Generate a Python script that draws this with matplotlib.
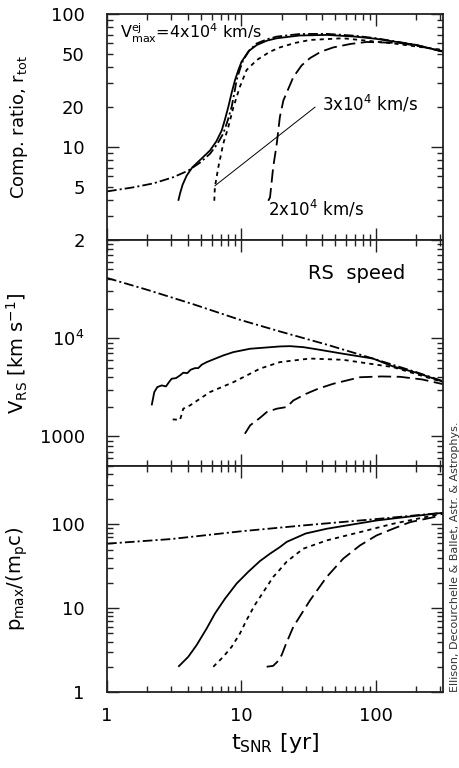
import matplotlib
matplotlib.use("Agg")
import matplotlib.pyplot as plt
import numpy as np
from matplotlib.ticker import FixedLocator, LogLocator, NullFormatter, FuncFormatter

plt.rcParams['font.family'] = ['DejaVu Sans']
plt.rcParams['mathtext.fontset'] = 'custom'
plt.rcParams['mathtext.rm'] = 'DejaVu Sans'
plt.rcParams['mathtext.it'] = 'DejaVu Sans'
plt.rcParams['lines.scale_dashes'] = False

# ---- top panel: compression ratio r_tot ----
r_dd_t = [1, 1.57, 2.21, 3.11, 4.02, 4.9, 5.83, 6.6, 7.32, 7.9, 8.45, 8.85, 9.2, 9.75, 10.3, 11.5, 13,
          15.5, 18.3, 27, 43, 70, 100, 200, 315]
r_dd = [4.63, 4.97, 5.32, 5.92, 6.64, 7.6, 8.87, 10.5, 12.6, 15.8, 20, 25.5, 31.8, 38.5, 45, 53.5, 60,
        64.5, 67.5, 70.6, 70.8, 68.5, 65.6, 58.4, 52]
r_4_t = [3.39, 3.5, 3.65, 3.91, 4.3, 5.0, 5.83, 6.5, 7.13, 7.55, 7.98, 8.45, 8.95, 9.45, 10, 11.3, 13,
         15.5, 18.3, 27, 43, 70, 100, 200, 315]
r_4 = [3.94, 4.5, 5.2, 6.08, 7.0, 8.1, 9.4, 11.0, 13.3, 16.2, 20, 25.5, 31.8, 37.5, 43.6, 52.5, 58.4,
       63, 65.6, 68.8, 69.5, 67.5, 65, 58.4, 52]
r_3_t = [6.28, 6.34, 6.72, 7.32, 7.98, 8.72, 9.73, 10.9, 13, 16.3, 19.3, 25, 32.3, 57, 134, 315]
r_3 = [3.94, 4.97, 7.0, 10.6, 14.1, 20, 28.3, 37.8, 45, 52, 56, 60.5, 63.7, 65.6, 60, 53.6]
r_2_t = [15.8, 16.3, 17.2, 18.3, 19.3, 20.5, 24.3, 28, 32.3, 39, 48.2, 65, 85.3, 150, 212, 315]
r_2 = [3.94, 4.17, 7.0, 10.6, 16.8, 22.4, 33.5, 41, 46.5, 52, 56, 59.5, 61.5, 60.5, 57, 52.5]
pointer_t = [6.35, 35.2]
pointer_r = [5.11, 19.9]

# ---- middle panel: reverse shock speed ----
v_dd_t = [1, 2, 4.4, 9.7, 19.3, 43, 95, 200, 315]
v_dd = [41000, 31000, 22100, 15400, 11700, 8600, 6200, 4500, 3650]
v_4_t = [2.149, 2.247, 2.366, 2.551, 2.746, 2.891, 3.027, 3.26, 3.49, 3.69, 3.955, 4.19, 4.51, 4.77,
         5.06, 5.51, 6.17, 7.32, 8.69, 11.57, 19.33, 22.9, 28.8, 36.3, 57, 95, 134, 200, 315]
v_4 = [2068, 2823, 3174, 3303, 3226, 3568, 3864, 3918, 4175, 4446, 4406, 4771, 4953, 4953,
       5364, 5699, 6073, 6668, 7205, 7798, 8234, 8290, 8100, 7700, 6935, 6200, 5150, 4450, 3600]
v_3_t = [3.08, 3.49, 3.69, 4.14, 5.83, 8.72, 11.6, 13.7, 19.3, 32.3, 57, 134, 315]
v_3 = [1490, 1470, 1914, 2065, 2826, 3566, 4345, 4890, 5700, 6200, 6020, 5070, 3566]
v_2_t = [10.6, 11.6, 13.7, 15.4, 18.3, 21.7, 24.3, 30, 37, 48.2, 76, 110, 151, 220, 315]
v_2 = [1064, 1295, 1540, 1766, 1914, 1990, 2320, 2700, 3050, 3434, 4000, 4075, 4040, 3800, 3400]

# ---- bottom panel: maximum momentum ----
p_dd_t = [1, 3, 10, 30, 100, 315]
p_dd = [59, 67, 83, 98, 116, 138]
p_4_t = [3.39, 4.02, 4.64, 5.51, 6.35, 7.54, 9.2, 11.2, 13.7, 16.3, 19.3, 21.7, 30, 43, 101, 179, 315]
p_4 = [2.0, 2.63, 3.63, 5.73, 8.65, 13.0, 19.7, 27.1, 36.5, 44.8, 53.7, 62, 78, 88.9, 111.6, 124.5, 137.8]
p_3_t = [6.17, 7.32, 8.45, 9.75, 10.9, 12.6, 14.5, 17.2, 19.3, 21.7, 28.8, 43, 76, 134, 267, 315]
p_3 = [2.0, 2.63, 3.46, 5.0, 7.2, 11.0, 15.5, 23.6, 29, 36, 51.4, 64.5, 81, 102, 128, 134]
p_2_t = [15.4, 17.2, 18.5, 19.9, 21.5, 24.3, 32.3, 43, 57, 76, 101, 134, 179, 280]
p_2 = [2.0, 2.05, 2.3, 2.76, 3.8, 6.0, 12.4, 23.6, 39, 56.2, 74, 88.9, 106.5, 124]

DASHDOT = (0, (7, 2.2, 1.5, 2.2))
DOTTED = (0, (3, 3))
DASHED = (0, (9.5, 4))

fig = plt.figure(figsize=(4.6, 7.68), dpi=100)
L, W, H, B = 0.2326, 0.7304, 0.2943, 0.0990
ax1 = fig.add_axes([L, B + 2 * H, W, H])
ax2 = fig.add_axes([L, B + H, W, H], sharex=ax1)
ax3 = fig.add_axes([L, B, W, H], sharex=ax1)


def draw(ax, sets):
    for t, y, ls in sets:
        ax.plot(t, y, color='k', lw=1.3, linestyle=ls, solid_capstyle='butt')


draw(ax1, [(r_dd_t, r_dd, DASHDOT), (r_4_t, r_4, '-'), (r_3_t, r_3, DOTTED), (r_2_t, r_2, DASHED)])
draw(ax2, [(v_dd_t, v_dd, DASHDOT), (v_4_t, v_4, '-'), (v_3_t, v_3, DOTTED), (v_2_t, v_2, DASHED)])
draw(ax3, [(p_dd_t, p_dd, DASHDOT), (p_4_t, p_4, '-'), (p_3_t, p_3, DOTTED), (p_2_t, p_2, DASHED)])
ax1.plot(pointer_t, pointer_r, color='k', lw=0.7)

for ax in (ax1, ax2, ax3):
    ax.set_xscale('log')
    ax.set_yscale('log')
    for s in ax.spines.values():
        s.set_linewidth(1.3)
        s.set_color('#222222')
    ax.tick_params(which='both', direction='in', top=True, right=True, width=1.0,
                   labelsize=13, color='#222222')
    ax.tick_params(which='major', length=8.5)
    ax.tick_params(which='minor', length=4.5)
    ax.tick_params(axis='y', which='both', pad=16)
    ax.tick_params(axis='x', which='both', pad=11)

ax1.set_xlim(1, 315)
ax1.xaxis.set_major_locator(FixedLocator([1, 10, 100]))
ax1.xaxis.set_minor_locator(LogLocator(base=10, subs=np.arange(2, 10)))
ax1.xaxis.set_major_formatter(FuncFormatter(lambda v, p: '%d' % round(v)))
ax1.xaxis.set_minor_formatter(NullFormatter())
ax1.tick_params(labelbottom=False)
ax2.tick_params(labelbottom=False)

# top
ax1.set_ylim(2, 100)
ax1.yaxis.set_major_locator(FixedLocator([10, 100]))
ax1.yaxis.set_minor_locator(FixedLocator([2, 3, 4, 5, 6, 7, 8, 9, 20, 30, 40, 50, 60, 70, 80, 90]))
ax1.yaxis.set_major_formatter(FuncFormatter(lambda v, p: '%d' % round(v)))
ax1.yaxis.set_minor_formatter(FuncFormatter(
    lambda v, p: '%d' % round(v) if round(v) in (2, 5, 20, 50) else ''))

# middle
ax2.set_ylim(500, 1e5)
ax2.yaxis.set_major_locator(FixedLocator([1000, 1e4, 1e5]))
ax2.yaxis.set_minor_locator(LogLocator(base=10, subs=np.arange(2, 10)))
mid_labels = {1000: '1000', 10000: r'$10^4$'}
ax2.yaxis.set_major_formatter(FuncFormatter(lambda v, p: mid_labels.get(int(round(v)), '')))
ax2.yaxis.set_minor_formatter(NullFormatter())

# bottom
ax3.set_ylim(1, 500)
ax3.yaxis.set_major_locator(FixedLocator([1, 10, 100]))
ax3.yaxis.set_minor_locator(LogLocator(base=10, subs=np.arange(2, 10)))
ax3.yaxis.set_major_formatter(FuncFormatter(lambda v, p: '%d' % round(v)))
ax3.yaxis.set_minor_formatter(NullFormatter())

ax1.set_ylabel(r'Comp. ratio, r$_{\rm tot}$', fontsize=13)
ax2.set_ylabel(r'V$_{\rm RS}$ [km s$^{-1}$]', fontsize=14)
ax3.set_ylabel(r'p$_{\rm max}$/(m$_{\rm p}$c)', fontsize=14)
for ax in (ax1, ax2, ax3):
    ax.yaxis.set_label_coords(-0.23, 0.5)
ax3.set_xlabel(r't$_{\rm SNR}$ [yr]', fontsize=16, labelpad=4)

ax1.text(0.0387, 0.893, r'V$^{\rm ej}_{\rm max}$=4x10$^4$ km/s', transform=ax1.transAxes,
         fontsize=11.5, va='baseline', ha='left')
ax1.text(0.640, 0.573, r'3x10$^4$ km/s', transform=ax1.transAxes,
         fontsize=12, va='baseline', ha='left')
ax1.text(0.479, 0.107, r'2x10$^4$ km/s', transform=ax1.transAxes,
         fontsize=12, va='baseline', ha='left')
ax2.text(0.598, 0.826, 'RS  speed', transform=ax2.transAxes,
         fontsize=14, va='baseline', ha='left')

fig.text(0.989, 0.099, 'Ellison, Decourchelle & Ballet, Astr. & Astrophys.',
         rotation=90, ha='center', va='bottom', fontsize=8, color='#333333')

fig.savefig('out.png', dpi=100)
